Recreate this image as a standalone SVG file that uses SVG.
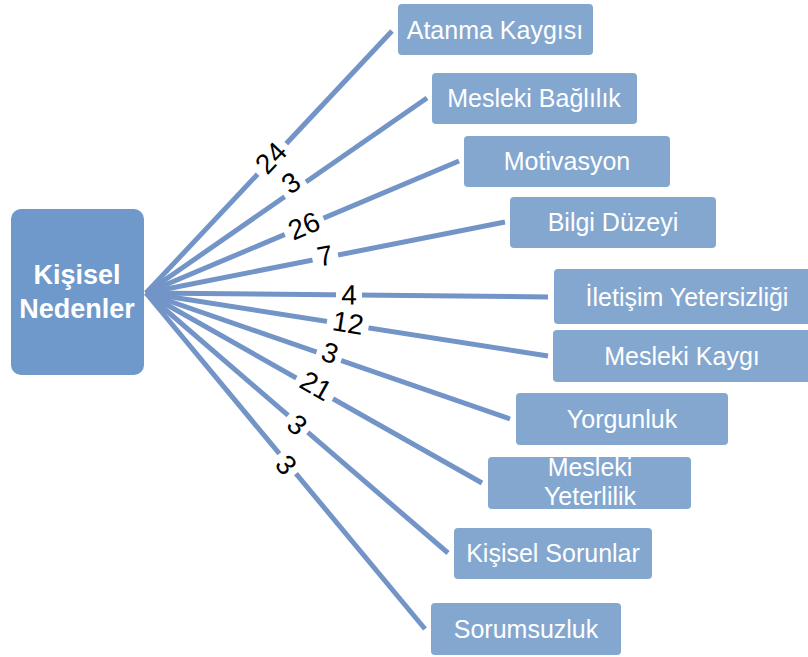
<svg xmlns="http://www.w3.org/2000/svg" width="808" height="657" viewBox="0 0 808 657">
<style>
.box{fill:#84a7d0}
.bt{font-family:"Liberation Sans",Arial,sans-serif;font-size:25px;fill:#fff;text-anchor:middle}
.ln{stroke:#7394c7;stroke-width:5;fill:none}
.lb rect{fill:#fff}
.lb text{font-family:"Liberation Sans",Arial,sans-serif;font-size:28px;fill:#000;text-anchor:middle;dominant-baseline:central}
</style>
<rect width="808" height="657" fill="#fff"/>
<g id="connectors">
<line class="ln" x1="146" y1="293" x2="392" y2="31"/>
<line class="ln" x1="146" y1="293" x2="427" y2="98"/>
<line class="ln" x1="146" y1="293" x2="459" y2="161"/>
<line class="ln" x1="146" y1="293" x2="505" y2="222"/>
<line class="ln" x1="146" y1="293" x2="548" y2="297"/>
<line class="ln" x1="146" y1="293" x2="548" y2="356"/>
<line class="ln" x1="146" y1="293" x2="510" y2="419"/>
<line class="ln" x1="146" y1="293" x2="482" y2="483"/>
<line class="ln" x1="146" y1="293" x2="448" y2="553"/>
<line class="ln" x1="146" y1="293" x2="425" y2="629"/>
<g class="lb" transform="translate(271,158) rotate(-46.8)"><rect x="-21" y="-15" width="42" height="30"/><text>24</text></g>
<g class="lb" transform="translate(291,183) rotate(-34.7)"><rect x="-13" y="-15" width="26" height="30"/><text>3</text></g>
<g class="lb" transform="translate(304,226) rotate(-22.8)"><rect x="-21" y="-15" width="42" height="30"/><text>26</text></g>
<g class="lb" transform="translate(325,256) rotate(-11)"><rect x="-13" y="-15" width="26" height="30"/><text>7</text></g>
<g class="lb" transform="translate(349,295) rotate(0.5)"><rect x="-13" y="-15" width="26" height="30"/><text>4</text></g>
<g class="lb" transform="translate(348,323) rotate(9)"><rect x="-21" y="-15" width="42" height="30"/><text>12</text></g>
<g class="lb" transform="translate(330,353) rotate(19)"><rect x="-13" y="-15" width="26" height="30"/><text>3</text></g>
<g class="lb" transform="translate(316,386) rotate(29.6)"><rect x="-21" y="-15" width="42" height="30"/><text>21</text></g>
<g class="lb" transform="translate(297,425) rotate(40.8)"><rect x="-13" y="-15" width="26" height="30"/><text>3</text></g>
<g class="lb" transform="translate(286,465) rotate(50.4)"><rect x="-13" y="-15" width="26" height="30"/><text>3</text></g>
</g>
<g id="center">
<rect x="11" y="209" width="133" height="166" rx="10" fill="#6f98cb"/>
<text x="77" y="284" font-family="Liberation Sans,Arial,sans-serif" font-size="27" font-weight="bold" fill="#fff" text-anchor="middle">Kişisel</text>
<text x="77" y="318" font-family="Liberation Sans,Arial,sans-serif" font-size="27" font-weight="bold" fill="#fff" text-anchor="middle">Nedenler</text>
</g>
<g id="n1"><rect class="box" x="398" y="4" width="195" height="51" rx="4"/><text class="bt" x="495" y="39">Atanma Kaygısı</text></g>
<g id="n2"><rect class="box" x="432" y="73" width="205" height="51" rx="4"/><text class="bt" x="534" y="107">Mesleki Bağlılık</text></g>
<g id="n3"><rect class="box" x="464" y="136" width="206" height="51" rx="4"/><text class="bt" x="567" y="170">Motivasyon</text></g>
<g id="n4"><rect class="box" x="510" y="197" width="206" height="51" rx="4"/><text class="bt" x="613" y="231">Bilgi Düzeyi</text></g>
<g id="n5"><rect class="box" x="554" y="269" width="258" height="55" rx="4"/><text class="bt" x="687" y="306">İletişim Yetersizliği</text></g>
<g id="n6"><rect class="box" x="553" y="330" width="259" height="52" rx="4"/><text class="bt" x="682" y="365">Mesleki Kaygı</text></g>
<g id="n7"><rect class="box" x="516" y="393" width="212" height="52" rx="4"/><text class="bt" x="622" y="428">Yorgunluk</text></g>
<g id="n8"><rect class="box" x="488" y="457" width="203" height="52" rx="4"/><text class="bt" x="590" y="476">Mesleki</text><text class="bt" x="590" y="505">Yeterlilik</text></g>
<g id="n9"><rect class="box" x="454" y="528" width="198" height="51" rx="4"/><text class="bt" x="553" y="562">Kişisel Sorunlar</text></g>
<g id="n10"><rect class="box" x="431" y="603" width="190" height="52" rx="4"/><text class="bt" x="526" y="638">Sorumsuzluk</text></g>
</svg>
